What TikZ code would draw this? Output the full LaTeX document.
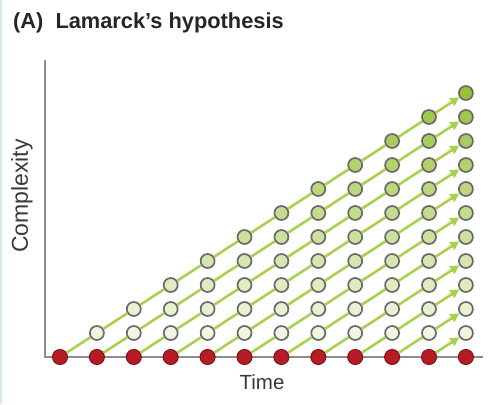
\documentclass[tikz,border=0pt]{standalone}
\usepackage{fontspec}
\setmainfont{Liberation Sans}
\usetikzlibrary{arrows.meta}
\definecolor{leafg}{HTML}{98C23A}
\definecolor{paleg}{HTML}{F1F6E2}
\definecolor{linkg}{HTML}{A9D150}
\definecolor{axisgray}{HTML}{8E8E8E}
\definecolor{ringgray}{HTML}{6A6A6A}
\definecolor{dotred}{HTML}{B71C26}
\definecolor{dotrim}{HTML}{7E1218}
\definecolor{edgeblue}{HTML}{D4E9F1}
\definecolor{labelgray}{HTML}{3A3A3A}
\tikzset{
  stage/.style={circle, draw=ringgray, line width=1.7pt, minimum size=14pt, inner sep=0pt},
  origin/.style={circle, fill=dotred, draw=dotrim, line width=1pt, minimum size=15pt, inner sep=0pt},
  link/.style={draw=linkg, line width=2.6pt},
  linkarrow/.style={link, -{Triangle[length=9pt,width=9pt]}},
  axisline/.style={draw=axisgray, line width=2pt},
  lbl/.style={text=labelgray, inner sep=0pt}
}
\begin{document}
\begin{tikzpicture}[x=1pt,y=-1pt]
\useasboundingbox (0,0) rectangle (500,404);
\fill[edgeblue] (0,0) rectangle (2,404);
% title
\node[lbl, anchor=west, text=black!85, font=\bfseries\fontsize{21.8}{26}\selectfont] (title) at (13,23) {(A)\ \ Lamarck’s hypothesis};
% axes
\coordinate (ytop) at (45,60);
\coordinate (orig) at (45,357);
\coordinate (xend) at (483,357);
\draw[axisline] (ytop) -- (orig) -- (xend);
% labels
\node[lbl, rotate=90, font=\fontsize{23}{27}\selectfont] (ylab) at (22,196) {Complexity};
\node[lbl, font=\fontsize{20.5}{24}\selectfont] (xlab) at (262,382) {Time};
% nodes
\foreach \k in {0,...,11}{
  \node[origin] (n-\k-0) at ({60+36.9*\k},357) {};
  \ifnum\k>0
    \foreach \j in {1,...,\k}{
      \pgfmathtruncatemacro{\pct}{(\j-1)*10}
      \node[stage, fill=leafg!\pct!paleg] (n-\k-\j) at ({60+36.9*\k},{357-24*\j}) {};
    }
  \fi
}
% connectors
\foreach \s in {0,...,10}{
  \pgfmathtruncatemacro{\last}{10-\s}
  \ifnum\last>0
    \foreach \m in {1,...,\last}{
      \pgfmathtruncatemacro{\ka}{\s+\m-1}
      \pgfmathtruncatemacro{\ja}{\m-1}
      \pgfmathtruncatemacro{\kb}{\s+\m}
      \draw[link] (n-\ka-\ja) -- (n-\kb-\m);
    }
  \fi
  \pgfmathtruncatemacro{\ja}{10-\s}
  \pgfmathtruncatemacro{\jb}{11-\s}
  \draw[linkarrow] (n-10-\ja) -- (n-11-\jb);
}
\end{tikzpicture}
\end{document}
